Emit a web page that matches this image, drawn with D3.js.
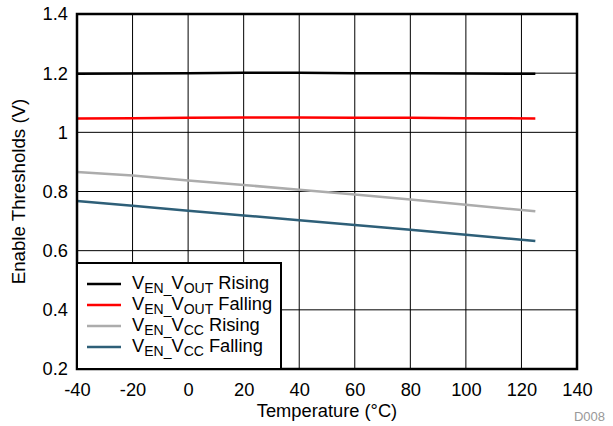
<!DOCTYPE html>
<html>
<head>
<meta charset="utf-8">
<script src="https://cdn.jsdelivr.net/npm/d3@7"></script>
<style>
  body { margin: 0; background: #fff; }
  svg { font-family: "Liberation Sans", Arial, sans-serif; }
</style>
</head>
<body>
<div id="chart"></div>
<script>
// data
const temps = [-40, -20, 0, 20, 40, 60, 80, 100, 125];
const voutRising = [1.198, 1.199, 1.200, 1.201, 1.201, 1.200, 1.200, 1.199, 1.198];
const voutFalling = [1.047, 1.048, 1.049, 1.050, 1.050, 1.049, 1.049, 1.048, 1.047];
const vccRising = [0.866, 0.854, 0.837, 0.822, 0.806, 0.790, 0.773, 0.755, 0.733];
const vccFalling = [0.768, 0.752, 0.735, 0.719, 0.703, 0.687, 0.671, 0.654, 0.633];
const xTicks = [-40, -20, 0, 20, 40, 60, 80, 100, 120, 140];
const yTicks = [0.2, 0.4, 0.6, 0.8, 1, 1.2, 1.4];

const seriesList = [
    {sub1: "EN_", main2: "V", sub2: "OUT", tail: " Rising", values: voutRising, color: "#000000"},
    {sub1: "EN_", main2: "V", sub2: "OUT", tail: " Falling", values: voutFalling, color: "#ff0000"},
    {sub1: "EN_", main2: "V", sub2: "CC", tail: " Rising", values: vccRising, color: "#acacac"},
    {sub1: "EN_", main2: "V", sub2: "CC", tail: " Falling", values: vccFalling, color: "#2e5f78"}
];

const width = 613, height = 426;
const margin = {top: 14, right: 36, bottom: 57, left: 77};
const w = width - margin.left - margin.right;
const h = height - margin.top - margin.bottom;
const fs = 18.3;

let svg = d3.select("#chart").append("svg")
    .attr("width", width)
    .attr("height", height);

let g = svg.append("g").attr("transform", "translate(" + margin.left + "," + margin.top + ")");

let x = d3.scaleLinear().domain([-40, 140]).range([0, w]);
let y = d3.scaleLinear().domain([0.2, 1.4]).range([h, 0]);

//grid
g.selectAll(".vgrid").data(xTicks).enter().append("line")
    .attr("x1", d => x(d)).attr("x2", d => x(d))
    .attr("y1", 0).attr("y2", h)
    .attr("stroke", "#000").attr("stroke-width", 1);
g.selectAll(".hgrid").data(yTicks).enter().append("line")
    .attr("x1", 0).attr("x2", w)
    .attr("y1", d => y(d)).attr("y2", d => y(d))
    .attr("stroke", "#000").attr("stroke-width", 1);

//axes (labels only)
let xAxis = g.append("g").attr("transform", "translate(0," + h + ")")
    .call(d3.axisBottom(x).tickValues(xTicks).tickSize(0).tickPadding(14).tickFormat(d => String(d)));
let yAxis = g.append("g")
    .call(d3.axisLeft(y).tickValues(yTicks).tickSize(0).tickPadding(9).tickFormat(d => String(+d.toFixed(1))));
[xAxis, yAxis].forEach(a => {
    a.select(".domain").remove();
    a.selectAll("text").attr("font-size", fs).attr("fill", "#000")
        .attr("font-family", "Liberation Sans, Arial, sans-serif");
});

//lines
let line = d3.line().x((d, i) => x(temps[i])).y(d => y(d));
seriesList.forEach(s => {
    g.append("path").datum(s.values)
        .attr("d", line)
        .attr("fill", "none")
        .attr("stroke", s.color)
        .attr("stroke-width", 2.5);
});

//frame
g.append("rect").attr("x", 0).attr("y", 0).attr("width", w).attr("height", h)
    .attr("fill", "none").attr("stroke", "#000").attr("stroke-width", 2.5);

//legend
let legend = g.append("g");
legend.append("rect").attr("x", 0).attr("y", 249).attr("width", 204).attr("height", h - 249)
    .attr("fill", "#fff").attr("stroke", "#000").attr("stroke-width", 2);
seriesList.forEach((s, i) => {
    let ly = 270 + i * 21;
    legend.append("line").attr("x1", 10).attr("x2", 44).attr("y1", ly).attr("y2", ly)
        .attr("stroke", s.color).attr("stroke-width", 2.5);
    let t = legend.append("text").attr("x", 55).attr("y", ly + 5).attr("font-size", fs);
    t.append("tspan").text("V");
    t.append("tspan").attr("font-size", 14).attr("dy", 4).text(s.sub1);
    t.append("tspan").attr("dy", -4).text(s.main2);
    t.append("tspan").attr("font-size", 14).attr("dy", 4).text(s.sub2);
    t.append("tspan").attr("dy", -4).text(s.tail);
});

//axis titles
svg.append("text").attr("x", margin.left + w / 2).attr("y", 417)
    .attr("text-anchor", "middle").attr("font-size", fs).text("Temperature (\u00B0C)");
svg.append("text").attr("transform", "translate(25," + (margin.top + h / 2) + ") rotate(-90)")
    .attr("text-anchor", "middle").attr("font-size", 18.7).text("Enable Thresholds (V)");
svg.append("text").attr("x", 605).attr("y", 421).attr("text-anchor", "end")
    .attr("font-size", 13).attr("fill", "#999").text("D008");
</script>
</body>
</html>
